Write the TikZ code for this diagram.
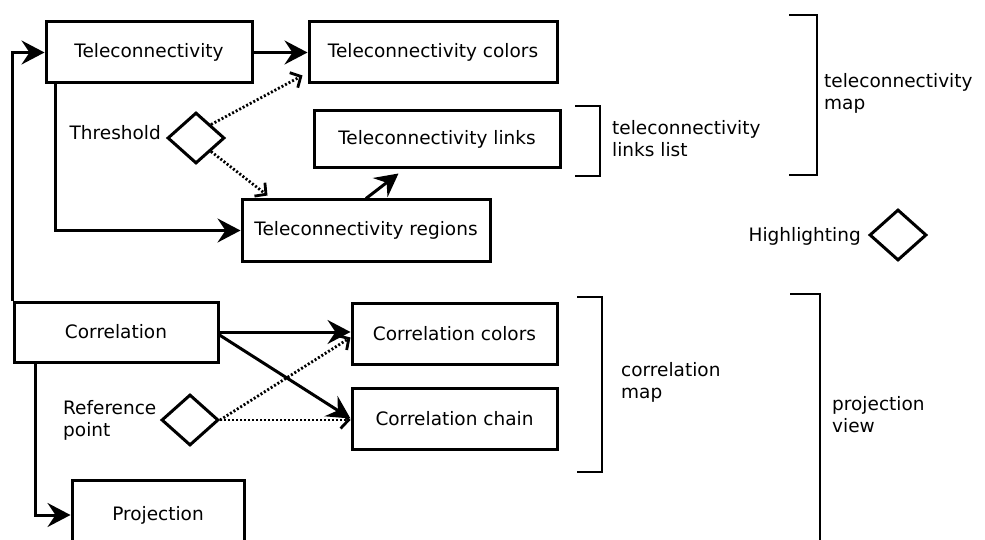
\documentclass[tikz,border=0pt]{standalone}
\usepackage{fontspec}
\setmainfont{DejaVu Sans}
\usetikzlibrary{arrows.meta, shapes.geometric}

\tikzset{
  block/.style={draw, line width=3pt, inner sep=0pt},
  choice/.style={draw, diamond, line width=3pt, inner sep=0pt,
    minimum width=57pt, minimum height=51pt},
  tag/.style={inner sep=0pt, align=left},
  flow/.style={line width=3pt, -{Stealth[length=23pt, width=24pt, inset=8pt]}},
  hint/.style={line width=2.8pt, dash pattern=on 2pt off 2pt,
    -{Straight Barb[length=8pt, width=17pt]}},
  bracket/.style={line width=2.2pt}
}

\begin{document}
\begin{tikzpicture}[x=1pt, y=-1pt, font=\fontsize{18.5}{22}\selectfont]
    \clip (0,0) rectangle (985,540);

    % Define the nodes
    \node[block, minimum width=206pt, minimum height=61pt] (tele) at (149,52.5) {Teleconnectivity};
    \node[block, minimum width=248pt, minimum height=61pt] (telecol) at (433,52.5) {Teleconnectivity colors};
    \node[block, minimum width=246pt, minimum height=57pt] (telelinks) at (437,139.5) {Teleconnectivity links};
    \node[block, minimum width=248pt, minimum height=61pt] (teleregions) at (366,230.5) {Teleconnectivity regions};

    \node[block, minimum width=204pt, minimum height=60pt] (corr) at (116,332) {Correlation};
    \node[block, minimum width=205pt, minimum height=61pt] (corrcol) at (454.5,333.5) {Correlation colors};
    \node[block, minimum width=205pt, minimum height=61pt] (corrchain) at (454.5,418.5) {Correlation chain};
    \node[block, minimum width=172pt, minimum height=70pt] (proj) at (158,515) {Projection};

    \node[choice] (thr) at (196,138) {};
    \node[choice] (ref) at (190,420) {};
    \node[choice] (highlight) at (898,235) {};

    \node[tag, anchor=east] (thrlabel) at (161,133) {Threshold};
    \node[tag, anchor=west] (reflabel) at (63,420) {Reference\\point};
    \node[tag, anchor=east] (highlightlabel) at (861,236) {Highlighting};

    \node[tag, anchor=west] (linkslabel) at (612,139) {teleconnectivity\\links list};
    \node[tag, anchor=west] (telemaplabel) at (824,93) {teleconnectivity\\map};
    \node[tag, anchor=west] (corrmaplabel) at (621,382) {correlation\\map};
    \node[tag, anchor=west] (projlabel) at (832,415) {projection\\view};

    % Draw the edges
    \draw[flow] (corr.north west) |- (tele.west);
    \draw[flow] (tele.east) -- (telecol.west);
    \draw[flow] ([xshift=11pt]tele.south west) |- (teleregions.west);
    \draw[flow] (teleregions.north) -- ([xshift=86pt, yshift=-4pt]telelinks.south west);
    \draw[hint] (thr.north east) -- ([xshift=-5pt, yshift=9pt]telecol.south west);
    \draw[hint] (thr.south east) -- ([xshift=27pt, yshift=3pt]teleregions.north west);

    \draw[flow] (corr.east) -- (corr.east -| corrcol.west);
    \draw[flow] ([yshift=-3pt]corr.east) -- (corrchain.west);
    \draw[hint] (ref.east) -- ([yshift=-4pt]corrcol.west);
    \draw[hint] (ref.east) -- (ref.east -| corrchain.west);
    \draw[flow] ([xshift=23pt]corr.south west) |- (proj.west);

    % Draw the brackets
    \draw[bracket] (575,106) -- (600,106) -- (600,176) -- (575,176);
    \draw[bracket] (789,15) -- (817,15) -- (817,175) -- (789,175);
    \draw[bracket] (577,297) -- (602,297) -- (602,472) -- (577,472);
    \draw[bracket] (790,294) -- (820,294) -- (820,550);
\end{tikzpicture}
\end{document}
